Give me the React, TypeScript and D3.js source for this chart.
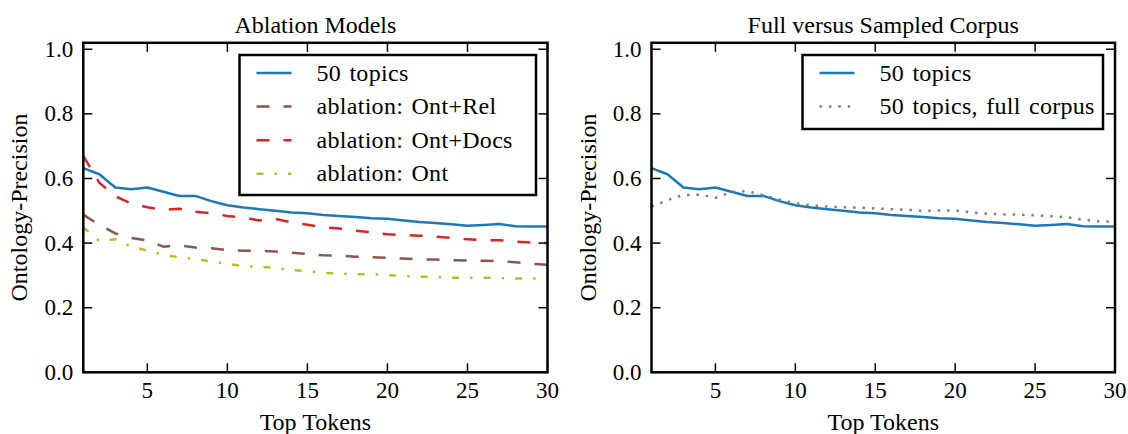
import React from "react";
import * as d3 from "d3";

// Top-token cutoffs on the x axis
const topTokens = d3.range(1, 31);

// Ontology-precision per cutoff
const topics50 = [0.632, 0.613, 0.572, 0.567, 0.572, 0.559, 0.546, 0.546, 0.530, 0.517, 0.510, 0.505, 0.500, 0.495, 0.492, 0.487, 0.484, 0.481, 0.477, 0.475, 0.470, 0.465, 0.462, 0.458, 0.454, 0.456, 0.459, 0.452, 0.451, 0.451];
const ablationOntRel = [0.488, 0.456, 0.430, 0.416, 0.408, 0.389, 0.393, 0.386, 0.384, 0.378, 0.376, 0.376, 0.374, 0.370, 0.366, 0.362, 0.361, 0.358, 0.356, 0.354, 0.352, 0.350, 0.349, 0.347, 0.346, 0.345, 0.344, 0.341, 0.336, 0.333];
const ablationOntDocs = [0.670, 0.587, 0.545, 0.522, 0.511, 0.503, 0.506, 0.497, 0.492, 0.484, 0.479, 0.470, 0.475, 0.464, 0.457, 0.449, 0.445, 0.438, 0.434, 0.427, 0.425, 0.423, 0.420, 0.416, 0.412, 0.409, 0.409, 0.404, 0.402, 0.400];
const ablationOnt = [0.449, 0.406, 0.412, 0.389, 0.377, 0.364, 0.356, 0.350, 0.343, 0.336, 0.329, 0.327, 0.323, 0.317, 0.313, 0.308, 0.306, 0.303, 0.304, 0.301, 0.298, 0.296, 0.295, 0.293, 0.292, 0.293, 0.292, 0.290, 0.290, 0.290];
const topics50Full = [0.513, 0.533, 0.549, 0.550, 0.540, 0.558, 0.561, 0.548, 0.535, 0.523, 0.517, 0.513, 0.511, 0.510, 0.507, 0.505, 0.503, 0.500, 0.501, 0.501, 0.495, 0.491, 0.489, 0.488, 0.486, 0.483, 0.480, 0.472, 0.467, 0.466];

const xTicks = [5, 10, 15, 20, 25, 30];
const yTicks = [0.0, 0.2, 0.4, 0.6, 0.8, 1.0];

type Series = { label: string; values: number[]; color: string; dash: string | null };

const leftSeries: Series[] = [
  { label: "50 topics", values: topics50, color: "#1f77b4", dash: null },
  { label: "ablation: Ont+Rel", values: ablationOntRel, color: "#8c564b", dash: "13,14" },
  { label: "ablation: Ont+Docs", values: ablationOntDocs, color: "#d62728", dash: "13,14" },
  { label: "ablation: Ont", values: ablationOnt, color: "#bcbd22", dash: "7,11,2.5,11" },
];

const rightSeries: Series[] = [
  { label: "50 topics", values: topics50, color: "#1f77b4", dash: null },
  { label: "50 topics, full corpus", values: topics50Full, color: "#7f7f7f", dash: "2.5,6.9" },
];

const FONT = "Liberation Serif, DejaVu Serif, serif";
const TOP = 42.8;
const BOTTOM = 372.3;
const TICK = 9;

type PanelProps = {
  id: string;
  title: string;
  left: number;
  right: number;
  series: Series[];
  legend: { x0: number; x1: number; y0: number; y1: number };
};

function Panel({ id, title, left, right, series, legend }: PanelProps) {
  const x = d3.scaleLinear().domain([1, 30]).range([left, right]);
  const y = d3.scaleLinear().domain([0, 1.02]).range([BOTTOM, TOP]);
  const line = d3
    .line<number>()
    .x((_, i) => x(topTokens[i]))
    .y((d) => y(d));
  const cx = (left + right) / 2;
  const cy = (TOP + BOTTOM) / 2;
  const rowGap = 33.6;

  return (
    <g>
      <defs>
        <clipPath id={`clip-${id}`}>
          <rect x={left} y={TOP} width={right - left} height={BOTTOM - TOP} />
        </clipPath>
      </defs>
      <text x={cx} y={32.5} textAnchor="middle" style={{ fontFamily: FONT, fontSize: 24 }}>
        {title}
      </text>
      <g clipPath={`url(#clip-${id})`}>
        {series.map((s) => (
          <path
            key={s.label}
            d={line(s.values) || ""}
            fill="none"
            stroke={s.color}
            strokeWidth={2.5}
            strokeLinejoin="round"
            strokeDasharray={s.dash || undefined}
          />
        ))}
      </g>
      {/* ticks on all four sides, pointing inward */}
      {xTicks.map((t) => (
        <g key={`xt${t}`}>
          <line x1={x(t)} x2={x(t)} y1={BOTTOM} y2={BOTTOM - TICK} stroke="#000" strokeWidth={1.5} />
          <line x1={x(t)} x2={x(t)} y1={TOP} y2={TOP + TICK} stroke="#000" strokeWidth={1.5} />
          <text x={x(t)} y={398} textAnchor="middle" style={{ fontFamily: FONT, fontSize: 23 }}>
            {t}
          </text>
        </g>
      ))}
      {yTicks.map((t) => (
        <g key={`yt${t}`}>
          <line x1={left} x2={left + TICK} y1={y(t)} y2={y(t)} stroke="#000" strokeWidth={1.5} />
          <line x1={right} x2={right - TICK} y1={y(t)} y2={y(t)} stroke="#000" strokeWidth={1.5} />
          <text x={left - 10} y={y(t) + 7.5} textAnchor="end" style={{ fontFamily: FONT, fontSize: 23 }}>
            {t.toFixed(1)}
          </text>
        </g>
      ))}
      <rect x={left} y={TOP} width={right - left} height={BOTTOM - TOP} fill="none" stroke="#000" strokeWidth={2.5} />
      <text x={cx} y={430} textAnchor="middle" style={{ fontFamily: FONT, fontSize: 24 }}>
        Top Tokens
      </text>
      <text
        transform={`translate(${left - 56},${cy}) rotate(-90)`}
        textAnchor="middle"
        style={{ fontFamily: FONT, fontSize: 24 }}
      >
        Ontology-Precision
      </text>
      {/* legend */}
      <rect
        x={legend.x0}
        y={legend.y0}
        width={legend.x1 - legend.x0}
        height={legend.y1 - legend.y0}
        fill="#fff"
        stroke="#000"
        strokeWidth={2.5}
      />
      {series.map((s, i) => {
        const ry = legend.y0 + 18 + i * rowGap;
        return (
          <g key={`lg${s.label}`}>
            <line
              x1={legend.x0 + 17}
              x2={legend.x0 + 52}
              y1={ry}
              y2={ry}
              stroke={s.color}
              strokeWidth={2.5}
              strokeDasharray={s.dash || undefined}
            />
            <text
              x={legend.x0 + 77}
              y={ry + 7.5}
              style={{ fontFamily: FONT, fontSize: 24, letterSpacing: "0.3px", wordSpacing: "2px" }}
            >
              {s.label}
            </text>
          </g>
        );
      })}
    </g>
  );
}

export default function App() {
  return (
    <svg
      width={1128}
      height={434}
      style={{ position: "absolute", left: 0, top: 0, background: "#fff" }}
    >
      <Panel
        id="ablation"
        title="Ablation Models"
        left={83.3}
        right={547.5}
        series={leftSeries}
        legend={{ x0: 239.5, x1: 536, y0: 55, y1: 195 }}
      />
      <Panel
        id="corpus"
        title="Full versus Sampled Corpus"
        left={651.5}
        right={1115}
        series={rightSeries}
        legend={{ x0: 802.5, x1: 1103, y0: 55, y1: 129 }}
      />
    </svg>
  );
}
